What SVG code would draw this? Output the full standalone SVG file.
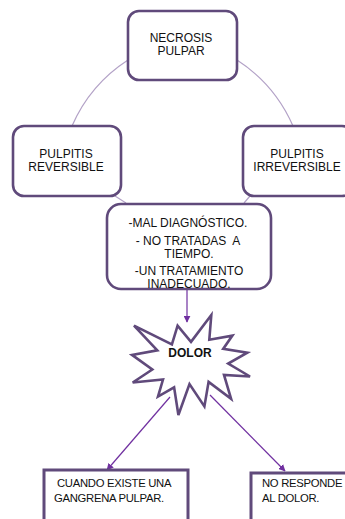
<svg xmlns="http://www.w3.org/2000/svg" width="345" height="519" viewBox="0 0 345 519">
<defs>
<style>
.box{fill:#fff;stroke:#604A7B;stroke-width:2.6}
.sq{fill:#fff;stroke:#604A7B;stroke-width:3}
.arc{fill:none;stroke:#B3A2C7;stroke-width:1.2}
.arr{fill:none;stroke:#7030A0;stroke-width:1.2}
.t{font-family:"Liberation Sans",Arial,sans-serif;font-size:12px;fill:#111;text-anchor:middle}
.s{font-family:"Liberation Sans",Arial,sans-serif;font-size:11.3px;fill:#111;letter-spacing:-0.3px}
</style>
<marker id="ah" viewBox="0 0 10 10" refX="9" refY="5" markerWidth="7" markerHeight="7" orient="auto" markerUnits="userSpaceOnUse">
<path d="M0,0 L10,5 L0,10 z" fill="#7030A0"/>
</marker>
</defs>
<rect width="345" height="519" fill="#fff"/>
<g id="connectors">
<path class="arc" d="M128,60 A150,150 0 0 0 72,126"/>
<path class="arc" d="M237,60 A150,150 0 0 1 293,126"/>
<path class="arc" d="M115,196 L126,203"/>
<path class="arc" d="M250,196 L244,203"/>
<path class="arr" d="M187,289 L187,322" marker-end="url(#ah)"/>
<path class="arr" d="M170,397 L107,470" marker-end="url(#ah)"/>
<path class="arr" d="M210,395 L285,471" marker-end="url(#ah)"/>
</g>
<g id="necrosis">
<rect class="box" x="128" y="11" width="109" height="69" rx="11"/>
<text class="t" x="181" y="42">NECROSIS</text>
<text class="t" x="181" y="55">PULPAR</text>
</g>
<g id="reversible">
<rect class="box" x="13" y="126" width="108" height="70" rx="11"/>
<text class="t" x="66" y="158">PULPITIS</text>
<text class="t" x="66" y="171">REVERSIBLE</text>
</g>
<g id="irreversible">
<rect class="box" x="243" y="126" width="110" height="70" rx="11"/>
<text class="t" x="297" y="158">PULPITIS</text>
<text class="t" x="297" y="171">IRREVERSIBLE</text>
</g>
<g id="causas">
<rect class="box" x="107" y="204" width="164" height="85" rx="14"/>
<text class="t" x="188" y="227">-MAL DIAGNÓSTICO.</text>
<text class="t" x="188" y="245" xml:space="preserve">- NO TRATADAS  A</text>
<text class="t" x="189" y="258">TIEMPO.</text>
<text class="t" x="189" y="275">-UN TRATAMIENTO</text>
<text class="t" x="189" y="288">INADECUADO.</text>
</g>
<g id="dolor">
<polygon fill="#fff" stroke="#604A7B" stroke-width="2.6" stroke-linejoin="miter" points="191,341.9 211.3,315 209.3,339.7 232.4,335.6 223.2,348.9 247.3,352.7 228.2,363.5 250,376.5 224,374.9 231.1,398.8 208.6,381.9 204.4,406.4 189.5,384.1 178.4,415 174.1,387.3 158,396.6 163,379.5 132.7,382.5 152.3,369.5 132,354.9 157.3,350.3 134,325.6 171.9,344.3 177.6,325.6"/>
<text class="t" x="190" y="357" font-weight="bold">DOLOR</text>
</g>
<g id="gangrena">
<rect class="sq" x="44" y="470" width="144" height="60"/>
<text class="s" x="57" y="487">CUANDO EXISTE UNA</text>
<text class="s" x="54" y="502">GANGRENA PULPAR.</text>
</g>
<g id="noresponde">
<rect class="sq" x="251" y="473" width="110" height="60"/>
<text class="s" x="262" y="487">NO RESPONDE</text>
<text class="s" x="262" y="502">AL DOLOR.</text>
</g>
</svg>
